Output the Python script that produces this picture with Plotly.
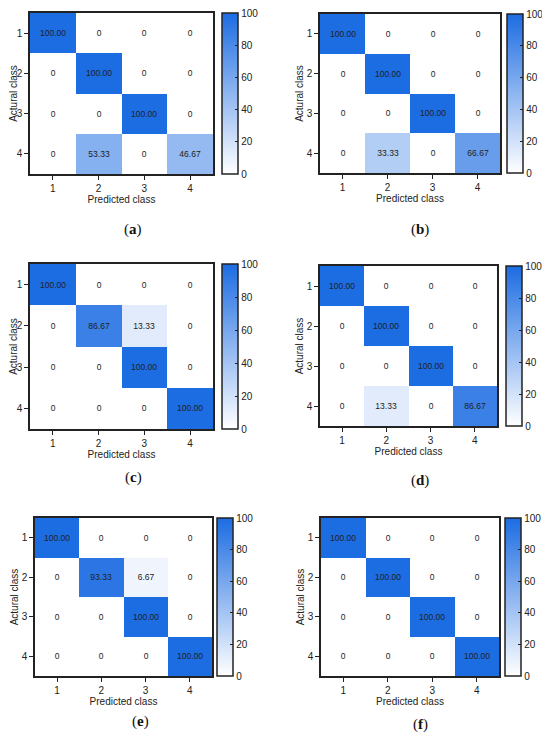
import plotly.graph_objects as go

# class labels shared by all six matrices
classes = [1, 2, 3, 4]
panel_labels = ["a", "b", "c", "d", "e", "f"]

# confusion matrices (rows = actual class, cols = predicted class), percent
cm_a = [[100.00, 0, 0, 0],
        [0, 100.00, 0, 0],
        [0, 0, 100.00, 0],
        [0, 53.33, 0, 46.67]]
cm_b = [[100.00, 0, 0, 0],
        [0, 100.00, 0, 0],
        [0, 0, 100.00, 0],
        [0, 33.33, 0, 66.67]]
cm_c = [[100.00, 0, 0, 0],
        [0, 86.67, 13.33, 0],
        [0, 0, 100.00, 0],
        [0, 0, 0, 100.00]]
cm_d = [[100.00, 0, 0, 0],
        [0, 100.00, 0, 0],
        [0, 0, 100.00, 0],
        [0, 13.33, 0, 86.67]]
cm_e = [[100.00, 0, 0, 0],
        [0, 93.33, 6.67, 0],
        [0, 0, 100.00, 0],
        [0, 0, 0, 100.00]]
cm_f = [[100.00, 0, 0, 0],
        [0, 100.00, 0, 0],
        [0, 0, 100.00, 0],
        [0, 0, 0, 100.00]]
matrices = [cm_a, cm_b, cm_c, cm_d, cm_e, cm_f]

cb_ticks = [0, 20, 40, 60, 80, 100]

# the page body has an 8px margin, so the figure is drawn 8px smaller
OFF = 8
W, H = 550 - OFF, 744 - OFF
# pixel boxes in the page: (x0, x1, y0, y1) of plot area, colorbar left x, label centre
boxes = [(30, 213, 13, 174), (320, 500, 14, 173),
         (30, 213, 264, 429), (320, 497, 266, 426),
         (35, 212, 518, 676), (321, 499, 518, 676)]
cbar_x = [222, 507, 222, 506, 217, 505]
label_pos = [(133, 230), (420, 230), (133, 477), (420, 480), (140, 721), (420, 724)]

scale = [[0, "rgb(255,255,255)"], [1, "rgb(28,108,226)"]]
font = "Liberation Sans, Arial, sans-serif"


def fmt(v):
    return "0" if v == 0 else f"{v:.2f}"


def px(x):
    return (x - OFF) / W


def py(y):
    return 1 - (y - OFF) / H


fig = go.Figure()
layout = {}
for i, cm in enumerate(matrices):
    x0, x1, y0, y1 = boxes[i]
    n = "" if i == 0 else str(i + 1)
    fig.add_trace(go.Heatmap(
        z=cm, x=classes, y=classes,
        text=[[fmt(v) for v in row] for row in cm],
        texttemplate="%{text}",
        textfont=dict(size=8.5, color="#222", family=font),
        colorscale=scale, zmin=0, zmax=100,
        xaxis="x" + n, yaxis="y" + n,
        colorbar=dict(
            x=px(cbar_x[i]), xanchor="left", xpad=0,
            y=py((y0 + y1) / 2), yanchor="middle", ypad=0,
            len=(y1 - y0) / H, lenmode="fraction",
            thickness=16, outlinewidth=1.5, outlinecolor="#222",
            tickvals=cb_ticks, ticks="inside", ticklen=3,
            tickcolor="#222", tickwidth=1,
            ticklabeloverflow="allow",
            tickfont=dict(size=10, color="#222", family=font),
        ),
    ))
    layout["xaxis" + n] = dict(
        domain=[px(x0), px(x1)], anchor="y" + n,
        range=[0.5, 4.5], tickvals=classes,
        showline=True, mirror=True, linewidth=1.5, linecolor="#222",
        ticks="outside", ticklen=4, tickwidth=1.2, tickcolor="#222",
        tickfont=dict(size=10, color="#222", family=font),
        title=dict(text="Predicted class", standoff=1,
                   font=dict(size=10, color="#222", family=font)),
        showgrid=False, zeroline=False,
    )
    layout["yaxis" + n] = dict(
        domain=[py(y1), py(y0)], anchor="x" + n,
        range=[4.5, 0.5], tickvals=classes,
        showline=True, mirror=True, linewidth=1.5, linecolor="#222",
        ticks="outside", ticklen=4, tickwidth=1.2, tickcolor="#222",
        tickfont=dict(size=10, color="#222", family=font),
        title=dict(text="Actural class", standoff=1,
                   font=dict(size=10, color="#222", family=font)),
        showgrid=False, zeroline=False,
    )

annotations = []
for lab, (lx, ly) in zip(panel_labels, label_pos):
    annotations.append(dict(
        text=f"(<b>{lab}</b>)", x=px(lx), y=py(ly),
        xref="paper", yref="paper", showarrow=False,
        xanchor="center", yanchor="middle",
        font=dict(size=15, color="#111", family="Liberation Serif, Times New Roman, serif"),
    ))

fig.update_layout(
    width=W, height=H,
    margin=dict(l=0, r=0, t=0, b=0),
    paper_bgcolor="white", plot_bgcolor="white",
    annotations=annotations,
    **layout,
)

fig.write_html("out.html")
